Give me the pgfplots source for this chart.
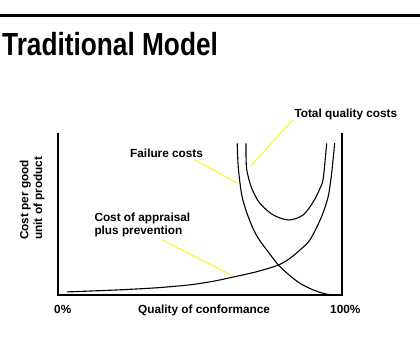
\documentclass[border=0pt]{standalone}
\usepackage{pgfplots}
\pgfplotsset{compat=1.18}
\usepackage{fontspec}
\setmainfont{Liberation Sans}
\definecolor{leader}{RGB}{255,242,0}
\begin{document}
\begin{tikzpicture}[x=1pt,y=1pt]
\path[use as bounding box] (0,0) rectangle (420,360);
% top rule
\draw[line width=3pt] (0,345) -- (420,345);
% title
\node[anchor=base west, inner sep=0pt, xscale=0.82] at (2,305) {\fontsize{32}{38}\selectfont\bfseries Traditional Model};
\begin{axis}[
  at={(58pt,65pt)}, anchor=south west,
  width=284pt, height=162pt, scale only axis,
  xmin=0, xmax=100, ymin=0, ymax=100,
  hide axis, clip=false,
]
\draw[line width=1.4pt] (axis cs:0,100) -- (axis cs:0,0) -- (axis cs:100,0) -- (axis cs:100,100);
% cost of appraisal plus prevention
\addplot[black, line width=1.1pt, smooth] coordinates {
(3.1,1.9) (15,2.7) (24.2,3.4) (35.9,4.6) (47,6.4) (55,8.6) (61.7,11.1) (70,14.4) (77.6,18.5) (81.7,22.7) (85.2,27.8) (88.7,34.0) (92.6,47.5) (95.1,60.5) (96.2,73) (97.0,86) (97.4,93.8)};
% failure costs
\addplot[black, line width=1.1pt, smooth] coordinates {
(63.1,93.6) (63.5,78.2) (64.7,61.7) (66.4,51.2) (68.3,42.6) (70.5,35) (73.5,27.8) (77.6,18.5) (81.5,12.2) (85.2,7.2) (89,3.8) (93.4,1.0) (96.9,0)};
% total quality costs
\addplot[black, line width=1.1pt, smooth] coordinates {
(66.2,93.6) (66.4,78.2) (68.2,65.9) (71.1,56.6) (75.8,49.4) (81.3,46.3) (86.3,49.4) (89.9,57.6) (92.3,66.0) (93.4,72.0) (94.6,93.6)};
\end{axis}
% leader lines
\draw[leader, line width=0.9pt] (195,200) -- (237.7,176.7);
\draw[leader, line width=0.9pt] (162,120) -- (232.3,84.3);
\draw[leader, line width=0.9pt] (293,240) -- (250,193.3);
% labels
\node[anchor=base west, inner sep=0pt] at (130,203) {\fontsize{11.8}{13}\selectfont\bfseries Failure costs};
\node[anchor=base west, inner sep=0pt] at (94.3,138.3) {\fontsize{11.8}{13}\selectfont\bfseries Cost of appraisal};
\node[anchor=base west, inner sep=0pt] at (94.3,125.7) {\fontsize{11.8}{13}\selectfont\bfseries plus prevention};
\node[anchor=base west, inner sep=0pt] at (294.3,242.7) {\fontsize{11.8}{13}\selectfont\bfseries Total quality costs};
\node[anchor=base west, inner sep=0pt] at (54,46.7) {\fontsize{11.8}{13}\selectfont\bfseries 0\%};
\node[anchor=base west, inner sep=0pt] at (138,46.7) {\fontsize{11.8}{13}\selectfont\bfseries Quality of conformance};
\node[anchor=base west, inner sep=0pt] at (330,46.7) {\fontsize{11.8}{13}\selectfont\bfseries 100\%};
\node[anchor=base west, inner sep=0pt, rotate=90] at (28.3,120) {\fontsize{11.8}{13}\selectfont\bfseries Cost per good};
\node[anchor=base west, inner sep=0pt, rotate=90] at (42,120) {\fontsize{11.8}{13}\selectfont\bfseries unit of product};
\end{tikzpicture}
\end{document}
